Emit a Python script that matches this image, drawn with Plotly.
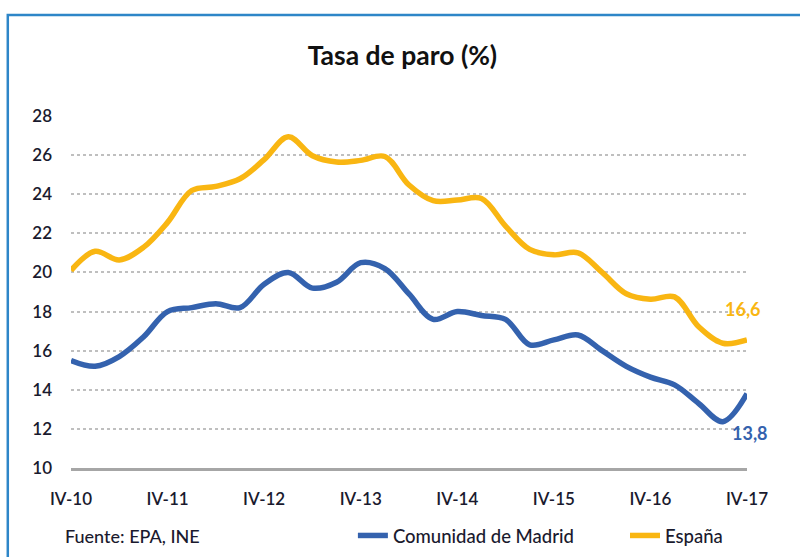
import plotly.graph_objects as go

# ---- data ----
quarters = []
for yr in range(10, 18):
    for q in ["I", "II", "III", "IV"]:
        if yr == 10 and q != "IV":
            continue
        quarters.append(f"{q}-{yr}")

madrid = [15.5, 15.2, 15.7, 16.7, 18.0, 18.2, 18.4, 18.2, 19.4, 20.0, 19.2, 19.5,
          20.5, 20.2, 18.9, 17.6, 18.0, 17.8, 17.6, 16.3, 16.55, 16.8, 16.0, 15.2,
          14.65, 14.25, 13.3, 12.37, 13.8]
espana = [20.1, 21.08, 20.64, 21.28, 22.56, 24.19, 24.40, 24.79, 25.77, 26.94, 25.97, 25.65,
          25.73, 25.93, 24.47, 23.67, 23.70, 23.78, 22.37, 21.18, 20.90, 21.00, 20.00, 18.91,
          18.63, 18.75, 17.22, 16.38, 16.55]
year_ticks = ["IV-10", "IV-11", "IV-12", "IV-13", "IV-14", "IV-15", "IV-16", "IV-17"]
y_ticks = [10, 12, 14, 16, 18, 20, 22, 24, 26, 28]

BLUE = "#3462AE"
ORANGE = "#F9B612"
TXT = "#1a1a2e"
FONT = "Lato"

fig = go.Figure()
fig.add_trace(go.Scatter(x=quarters, y=madrid, mode="lines", name="Comunidad de Madrid",
                         legend="legend",
                         line=dict(color=BLUE, width=5.5, shape="spline", smoothing=1.0)))
fig.add_trace(go.Scatter(x=quarters, y=espana, mode="lines", name="España",
                         legend="legend2",
                         line=dict(color=ORANGE, width=5.5, shape="spline", smoothing=1.0)))

fig.add_annotation(x=quarters[-1], y=espana[-1], text=f"{espana[-1]:.1f}".replace(".", ","),
                   showarrow=False, xshift=-4, yshift=31,
                   font=dict(family=FONT, size=18, color=ORANGE, weight=700))
fig.add_annotation(x=quarters[-1], y=madrid[-1], text=f"{madrid[-1]:.1f}".replace(".", ","),
                   showarrow=False, xshift=3, yshift=-39,
                   font=dict(family=FONT, size=18, color=BLUE, weight=700))

fig.add_annotation(xref="paper", yref="paper", x=-0.0125, y=-0.193, xanchor="left", yanchor="middle",
                   text="Fuente: EPA, INE", showarrow=False,
                   font=dict(family=FONT, size=18, color=TXT, weight=500))

# outer frame
fig.add_shape(type="rect", xref="paper", yref="paper",
              x0=-0.0935, x1=1.09, y0=-0.29, y1=1.287,
              line=dict(color="#2E86C8", width=2.5), fillcolor="rgba(0,0,0,0)", layer="below")

legend_common = dict(orientation="h", y=-0.193, xanchor="left", yanchor="middle",
                     font=dict(family=FONT, size=18.5, color=TXT, weight=500),
                     bgcolor="rgba(0,0,0,0)")
fig.update_layout(
    width=800, height=557,
    margin=dict(l=71, r=53, t=116, b=89, autoexpand=False),
    paper_bgcolor="white", plot_bgcolor="white",
    title=dict(text="<b>Tasa de paro (%)</b>", x=0.503, xanchor="center", y=0.9, yanchor="middle",
               font=dict(family=FONT, size=26.5, color="#111111")),
    showlegend=True,
    legend=dict(x=0.417, **legend_common),
    legend2=dict(x=0.8195, **legend_common),
    font=dict(family=FONT),
)
fig.update_xaxes(type="category", range=[0, len(quarters) - 1], tickmode="array",
                 tickvals=year_ticks, ticktext=year_ticks, showgrid=False,
                 showline=True, linecolor="#A6A6A6", linewidth=2.5, ticks="",
                 ticklabelstandoff=14, zeroline=False, automargin=False,
                 tickfont=dict(family=FONT, size=17, color=TXT, weight=600))
fig.update_yaxes(range=[10, 28], tickmode="array", tickvals=y_ticks, showgrid=True,
                 gridcolor="#BFBFBF", griddash="dot", gridwidth=1.5, zeroline=False,
                 showline=False, ticks="", ticklabelstandoff=18, automargin=False,
                 tickfont=dict(family=FONT, size=17, color=TXT, weight=600))

fig.write_html("out.html", config={"displayModeBar": False},
               post_script="document.body.style.margin='0';")
